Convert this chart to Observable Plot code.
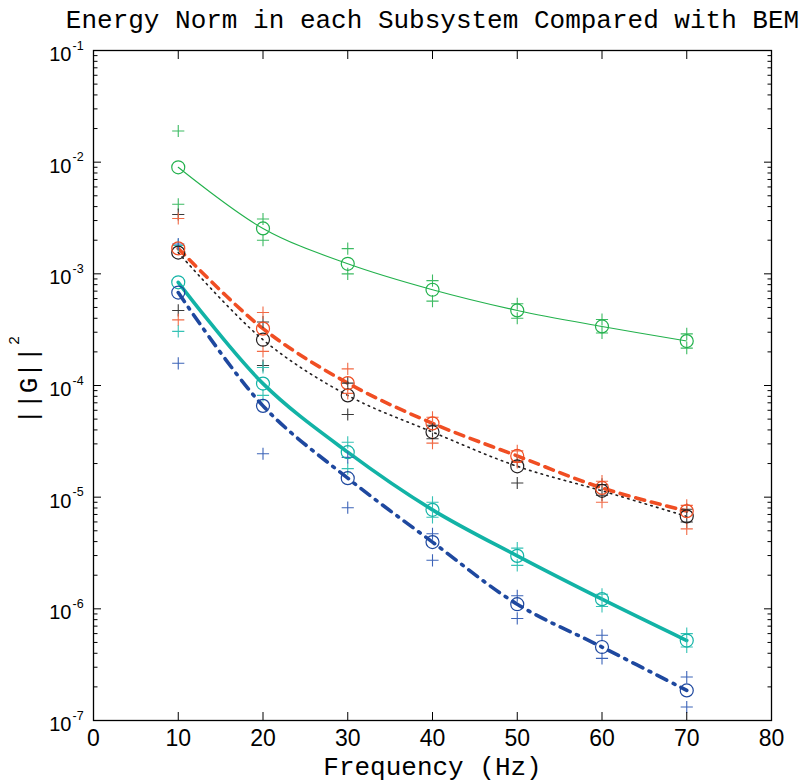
<!DOCTYPE html>
<html>
<head>
<meta charset="utf-8">
<script src="https://cdn.jsdelivr.net/npm/d3@7"></script>
<script src="https://cdn.jsdelivr.net/npm/@observablehq/plot@0.6"></script>
<style>
  html, body { margin: 0; padding: 0; background: #fff; }
</style>
</head>
<body>
<div id="chart"></div>
<script>
// ---- data ----
const freq = [10, 20, 30, 40, 50, 60, 70];

// green subsystem
const greenC  = [9.0e-3, 2.55e-3, 1.23e-3, 7.2e-4, 4.7e-4, 3.38e-4, 2.5e-4];
const greenHi = [1.9e-2, 3.1e-3, 1.68e-3, 8.7e-4, 5.4e-4, 3.9e-4, 2.9e-4];
const greenLo = [4.2e-3, 2.0e-3, 1.0e-3, 5.7e-4, 4.0e-4, 2.95e-4, 2.16e-4];
// red subsystem
const redC  = [1.69e-3, 3.23e-4, 1.05e-4, 4.58e-5, 2.34e-5, 1.21e-5, 7.5e-6];
const redHi = [3.13e-3, 4.5e-4, 1.41e-4, 5.2e-5, 2.6e-5, 1.39e-5, 8.45e-6];
const redLo = [3.87e-4, 2.02e-4, 8.5e-5, 3.05e-5, 2.05e-5, 9.0e-6, 5.2e-6];
// black subsystem
const blackC  = [1.55e-3, 2.57e-4, 8.15e-5, 3.83e-5, 1.89e-5, 1.14e-5, 6.73e-6];
const blackHi = [3.4e-3, 3.7e-4, 1.05e-4, 4.4e-5, 2.1e-5, 1.3e-5, 7.8e-6];
const blackLo = [4.7e-4, 1.51e-4, 5.5e-5, 3.34e-5, 1.34e-5, 1.04e-5, 6.0e-6];
// teal subsystem
const tealC  = [8.4e-4, 1.04e-4, 2.53e-5, 7.7e-6, 2.98e-6, 1.22e-6, 5.2e-7];
const tealHi = [1.8e-3, 1.45e-4, 3.1e-5, 9.0e-6, 3.5e-6, 1.35e-6, 6.0e-7];
const tealLo = [3.05e-4, 8.15e-5, 1.8e-5, 6.6e-6, 2.45e-6, 1.05e-6, 4.55e-7];
// blue subsystem
const blueC  = [6.8e-4, 6.57e-5, 1.48e-5, 3.96e-6, 1.1e-6, 4.55e-7, 1.86e-7];
const blueHi = [1.85e-3, null, 2.27e-5, 4.7e-6, 1.31e-6, 5.8e-7, 2.45e-7];
const blueLo = [1.58e-4, 2.45e-5, 8.05e-6, 2.72e-6, 8.2e-7, 3.6e-7, 1.32e-7];

const xTicks = [0, 10, 20, 30, 40, 50, 60, 70, 80];
const decades = [1e-7, 1e-6, 1e-5, 1e-4, 1e-3, 1e-2, 1e-1];
const decadeExp = ["-7", "-6", "-5", "-4", "-3", "-2", "-1"];
const minorMult = [2, 3, 4, 5, 6, 7, 8, 9];

// ---- build tables ----
const series = [
  {name: "green", color: "#22b14c", plusColor: "#3dbb63", c: greenC, hi: greenHi, lo: greenLo},
  {name: "black", color: "#231f20", plusColor: "#3a3a3a", c: blackC, hi: blackHi, lo: blackLo},
  {name: "red",   color: "#f04e23", plusColor: "#f26a45", c: redC, hi: redHi, lo: redLo},
  {name: "teal",  color: "#12b3a6", plusColor: "#35c2b5", c: tealC, hi: tealHi, lo: tealLo},
  {name: "blue",  color: "#1e489f", plusColor: "#3d64b8", c: blueC, hi: blueHi, lo: blueLo}
];
const circles = [], pluses = [];
for (const s of series) {
  freq.forEach((f, i) => {
    circles.push({f, v: s.c[i], name: s.name, color: s.color});
    if (s.hi[i] != null) pluses.push({f, v: s.hi[i], color: s.plusColor});
    if (s.lo[i] != null) pluses.push({f, v: s.lo[i], color: s.plusColor});
  });
}
const lineOf = (name) => circles.filter(d => d.name === name);
const minors = decades.slice(0, -1).flatMap(d => minorMult.map(m => m * d));

const lineStyles = {
  black: {strokeWidth: 1.6, strokeDasharray: "1.5,4.5"},
  green: {strokeWidth: 1.1},
  red:   {strokeWidth: 3.6, strokeDasharray: "9,7"},
  teal:  {strokeWidth: 3.6},
  blue:  {strokeWidth: 3.6, strokeDasharray: "11,7,2,7"}
};

const mono = "Liberation Mono, DejaVu Sans Mono, monospace";
const sans = "Liberation Sans, Arial, sans-serif";
const tickOnly = {tickSize: -8, fill: "none", stroke: "#000", label: null};
const minorOnly = {tickSize: -4.5, fill: "none", stroke: "#000", label: null};

const chart = Plot.plot({
  width: 806,
  height: 783,
  marginLeft: 93,
  marginRight: 35,
  marginTop: 50,
  marginBottom: 63,
  style: {background: "#fff", fontFamily: sans, color: "#000"},
  x: {domain: [0, 80]},
  y: {type: "log", domain: [1e-7, 1e-1]},
  marks: [
    // lines
    ...["black", "green", "red", "teal", "blue"].map(n =>
      Plot.line(lineOf(n), {x: "f", y: "v", stroke: series.find(s => s.name === n).color,
        curve: "catmull-rom", ...lineStyles[n]})
    ),
    // markers
    Plot.dot(pluses, {x: "f", y: "v", symbol: "plus", r: 4, stroke: "color", fill: "none", strokeWidth: 1.1}),
    Plot.dot(circles, {x: "f", y: "v", symbol: "circle", r: 6.5, stroke: "color", fill: "none", strokeWidth: 1.2}),
    // x axis ticks (inward) top & bottom
    Plot.axisX({anchor: "bottom", ticks: xTicks, ...tickOnly}),
    Plot.axisX({anchor: "top", ticks: xTicks, ...tickOnly}),
    Plot.axisX({anchor: "bottom", ticks: xTicks, tickSize: 0, tickPadding: 9, label: null,
      fontSize: 23, fontFamily: sans, fill: "#000", tickFormat: d => String(d)}),
    // y axis ticks (inward) left & right
    Plot.axisY({anchor: "left", ticks: decades, ...tickOnly}),
    Plot.axisY({anchor: "right", ticks: decades, ...tickOnly}),
    Plot.axisY({anchor: "left", ticks: minors, ...minorOnly}),
    Plot.axisY({anchor: "right", ticks: minors, ...minorOnly}),
    // y tick labels 10^n
    Plot.text(decades, {y: d => d, text: () => "10", frameAnchor: "left", textAnchor: "end",
      dx: -22, dy: 4, fontSize: 20, fill: "#000"}),
    Plot.text(decades, {y: d => d, text: (d, i) => decadeExp[i], frameAnchor: "left", textAnchor: "start",
      dx: -21, dy: -5, fontSize: 12.5, fill: "#000"}),
    Plot.frame({stroke: "#000", strokeWidth: 1.3}),
    // title & labels
    Plot.text(["Energy Norm in each Subsystem Compared with BEM"], {frameAnchor: "top", dy: -31,
      textAnchor: "middle", lineAnchor: "middle", fontSize: 26, fontFamily: mono, fill: "#000"}),
    Plot.text(["Frequency (Hz)"], {frameAnchor: "bottom", dy: 46, textAnchor: "middle", lineAnchor: "middle",
      fontSize: 26, fontFamily: mono, fill: "#000"}),
    Plot.text(["||G||"], {frameAnchor: "left", dx: -65, dy: 0, rotate: -90, textAnchor: "middle",
      lineAnchor: "middle", fontSize: 26, fontFamily: mono, fill: "#000"}),
    Plot.text(["2"], {frameAnchor: "left", dx: -79, dy: -45, rotate: -90, textAnchor: "middle",
      lineAnchor: "middle", fontSize: 15, fontFamily: mono, fill: "#000"})
  ]
});
document.getElementById("chart").appendChild(chart);
</script>
</body>
</html>
